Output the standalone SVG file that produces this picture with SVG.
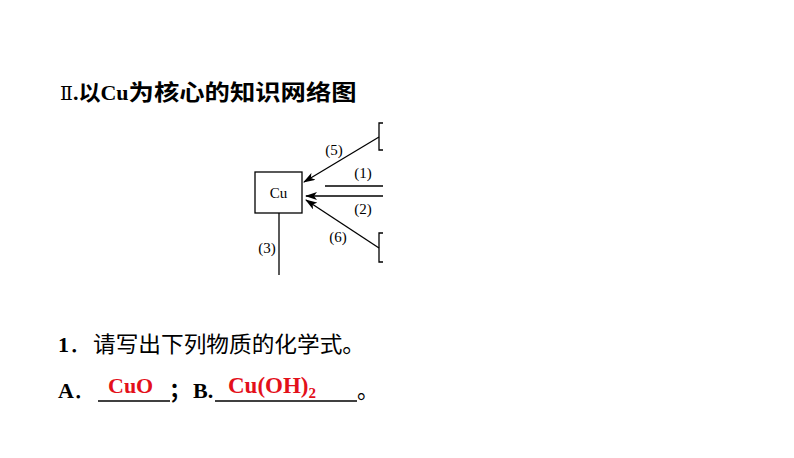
<svg xmlns="http://www.w3.org/2000/svg" width="794" height="458" viewBox="0 0 794 458">
<defs>
<marker id="ah" markerUnits="userSpaceOnUse" markerWidth="12" markerHeight="8" refX="11" refY="4" orient="auto">
<path d="M0,0 L12,4 L0,8 L3,4 Z" fill="#000"/>
</marker>
<style>
.cjk{font-family:"Liberation Serif","Noto Sans CJK SC",serif;}
.lbl{font-family:"Liberation Serif",serif;font-size:15px;fill:#000;text-anchor:middle;}
.ln{stroke:#000;stroke-width:1.3;fill:none;}
.red{fill:#E3101A;font-family:"Liberation Serif",serif;font-weight:bold;}
</style>
</defs>
<rect width="794" height="458" fill="#fff"/>
<g id="title">
<text class="cjk" x="60" y="100" font-size="22" font-weight="bold"><tspan font-family="DejaVu Serif" font-weight="normal" font-size="19">Ⅱ</tspan>.<tspan font-family="Noto Sans CJK SC">以</tspan>Cu<tspan font-family="Noto Sans CJK SC" textLength="228" lengthAdjust="spacingAndGlyphs">为核心的知识网络图</tspan></text>
</g>
<g id="node-cu">
<rect x="255" y="172" width="47" height="41" fill="none" stroke="#000" stroke-width="1.3"/>
<text x="278.5" y="198" font-family="Liberation Serif" font-size="15" text-anchor="middle">Cu</text>
</g>
<g id="node-top">
<path class="ln" d="M383,123 H379 V150 H383"/>
</g>
<g id="node-bottom">
<path class="ln" d="M383,233 H379 V262 H383"/>
</g>
<g id="connectors">
<line class="ln" x1="379" y1="137" x2="304" y2="182" marker-end="url(#ah)"/>
<line class="ln" x1="383" y1="186" x2="325" y2="186"/>
<line class="ln" x1="383" y1="196" x2="306" y2="196" marker-end="url(#ah)"/>
<line class="ln" x1="379" y1="248" x2="306" y2="200" marker-end="url(#ah)"/>
<line class="ln" x1="279" y1="213" x2="279" y2="275"/>
<text class="lbl" x="334" y="155">(5)</text>
<text class="lbl" x="363" y="178">(1)</text>
<text class="lbl" x="363" y="214">(2)</text>
<text class="lbl" x="338" y="242">(6)</text>
<text class="lbl" x="267" y="253">(3)</text>
</g>
<g id="question">
<text class="cjk" y="352" font-size="22"><tspan x="58" font-weight="bold">1</tspan><tspan x="69" font-family="Noto Sans CJK SC">．</tspan><tspan x="93" font-family="Noto Sans CJK SC" textLength="272" lengthAdjust="spacingAndGlyphs">请写出下列物质的化学式。</tspan></text>
<text class="cjk" y="398" font-size="22" font-weight="bold"><tspan x="58">A</tspan><tspan x="73" font-family="Noto Sans CJK SC" font-weight="normal">．</tspan><tspan x="169" font-family="Noto Sans CJK SC">；</tspan><tspan x="193">B.</tspan><tspan x="357" font-family="Noto Sans CJK SC" font-weight="normal">。</tspan></text>
<line x1="98" y1="401" x2="170" y2="401" stroke="#000" stroke-width="1.5"/>
<line x1="215" y1="401" x2="357" y2="401" stroke="#000" stroke-width="1.5"/>
<text class="red" x="108" y="393" font-size="22">CuO</text>
<text class="red" x="228" y="393" font-size="23">Cu(OH)<tspan font-size="15" dy="5">2</tspan></text>
</g>
</svg>
